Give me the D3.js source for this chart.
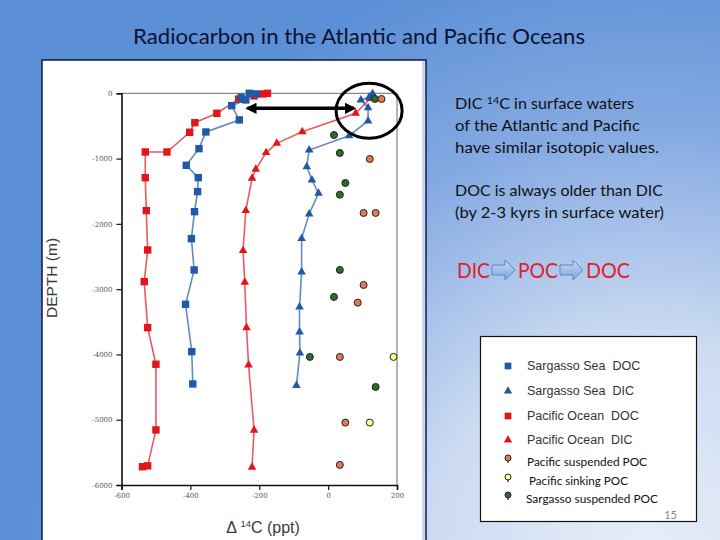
<!DOCTYPE html>
<html lang="en">
<head>
    <meta charset="UTF-8">
    <title>Radiocarbon in the Atlantic and Pacific Oceans</title>
    <script src="https://d3js.org/d3.v7.min.js"></script>
</head>
<body>
    <div id="container"></div>
</body>

<style>
body {
    margin: 0 0;
    overflow: hidden;
}
svg text {
    user-select: none;
}
</style>

<script>
    // values: [delta14C (ppt), depth (m)]
    const sargassoDOC = [
        [-229, 0], [-210, -10], [-253, -61], [-239, -102], [-280, -189], [-258, -408],
        [-355, -592], [-375, -848], [-412, -1103], [-377, -1292], [-379, -1506],
        [-388, -1813], [-397, -2226], [-389, -2706], [-414, -3232], [-396, -3957], [-393, -4452]
    ]
    const sargassoDIC = [
        [129, -5], [119, -61], [95, -102], [116, -220], [116, -424], [61, -649],
        [-55, -868], [-62, -1124], [-47, -1328], [-28, -1531], [-55, -1848],
        [-77, -2226], [-77, -2737], [-83, -3273], [-83, -3656], [-82, -3977], [-92, -4477]
    ]
    const pacificDOC = [
        [-176, 0], [-190, -10], [-215, -40], [-260, -90], [-323, -306], [-387, -450],
        [-402, -597], [-468, -899], [-531, -899], [-531, -1292], [-528, -1797],
        [-524, -2400], [-534, -2885], [-524, -3590], [-500, -4150], [-500, -5156],
        [-524, -5707], [-539, -5720]
    ]
    const pacificDIC = [
        [130, -20], [122, -80], [80, -306], [-75, -590], [-149, -766], [-180, -909],
        [-210, -1164], [-221, -1302], [-239, -1797], [-247, -2410], [-242, -2895],
        [-237, -3590], [-231, -4161], [-215, -5161], [-221, -5727]
    ]
    const pacificSuspendedPOC = [
        [155, -87], [121, -1006], [103, -1833], [138, -1833], [103, -2936],
        [86, -3207], [34, -4038], [50, -5044], [34, -5692]
    ]
    const pacificSinkingPOC = [[190, -4038], [121, -5044]]
    const sargassoSuspendedPOC = [
        [136, -87], [17, -639], [34, -914], [50, -1374], [34, -1553],
        [34, -2706], [17, -3119], [-53, -4038], [138, -4498]
    ]

    const xTicks = [-600, -400, -200, 0, 200]
    const yTicks = [0, -1000, -2000, -3000, -4000, -5000, -6000]

    const legendItems = [
        {label: 'Sargasso Sea  DOC', shape: 'square', color: '#1f5aa6', font: 'chart'},
        {label: 'Sargasso Sea  DIC', shape: 'triangle', color: '#1f5aa6', font: 'chart'},
        {label: 'Pacific Ocean  DOC', shape: 'square', color: '#e0161b', font: 'chart'},
        {label: 'Pacific Ocean  DIC', shape: 'triangle', color: '#e0161b', font: 'chart'},
        {label: 'Pacific suspended POC', shape: 'pin', color: '#e07a50', font: 'slide', w: 120},
        {label: 'Pacific sinking POC', shape: 'pin', color: '#ffff80', font: 'slide', w: 99, dx: 2},
        {label: 'Sargasso suspended POC', shape: 'pin', color: '#2e6b2e', font: 'slide', w: 132, dx: -1}
    ]

    // annotation: circle round the surface DIC, arrow between DOC and DIC
    const ringCenter = [119, -266]
    const arrowEnds = [[-234, -230], [75, -230]]

    const W = 720, H = 540
    const slideFont = 'Lato, "Open Sans", sans-serif'
    const chartFont = '"Liberation Sans", Arial, sans-serif'
    const blue = '#1f5aa6', red = '#e0161b'

    const svg = d3.select('#container')
        .append('svg')
        .attr('width', W)
        .attr('height', H)

    const defs = svg.append('defs')
    const grad = defs.append('radialGradient')
        .attr('id', 'bg')
        .attr('gradientUnits', 'userSpaceOnUse')
        .attr('cx', 650).attr('cy', 560).attr('r', 620)
    grad.append('stop').attr('offset', 0).attr('stop-color', '#e8eef9')
    grad.append('stop').attr('offset', 0.35).attr('stop-color', '#cddcf2')
    grad.append('stop').attr('offset', 0.7).attr('stop-color', '#84a9e2')
    grad.append('stop').attr('offset', 1).attr('stop-color', '#5b8fd6')

    const arrowGrad = defs.append('linearGradient')
        .attr('id', 'blockArrow')
        .attr('x1', 0).attr('y1', 0).attr('x2', 0).attr('y2', 1)
    arrowGrad.append('stop').attr('offset', 0).attr('stop-color', '#c7daf5')
    arrowGrad.append('stop').attr('offset', 1).attr('stop-color', '#7ea6df')

    svg.append('rect')
        .attr('width', W).attr('height', H)
        .attr('fill', 'url(#bg)')

    // title
    svg.append('text')
        .attr('x', 359).attr('y', 44)
        .attr('text-anchor', 'middle')
        .attr('font-family', slideFont)
        .attr('font-size', 22)
        .attr('fill', '#0b1333')
        .attr('textLength', 452)
        .attr('lengthAdjust', 'spacingAndGlyphs')
        .text('Radiocarbon in the Atlantic and Pacific Oceans')

    // white image panel
    svg.append('rect')
        .attr('x', 42).attr('y', 60)
        .attr('width', 384).attr('height', 490)
        .attr('fill', '#fff')
        .attr('stroke', '#0a1a40')
        .attr('stroke-width', 1.5)
    svg.append('rect')
        .attr('x', 422).attr('y', 61)
        .attr('width', 3).attr('height', 490)
        .attr('fill', '#c9d8f0')

    const x = d3.scaleLinear().domain([-600, 200]).range([121.5, 397])
    const y = d3.scaleLinear().domain([0, -6000]).range([93.3, 485])

    const plot = svg.append('g')

    // frame: grey top and right, black axes
    plot.append('line')
        .attr('x1', x(-600)).attr('x2', x(200))
        .attr('y1', y(0)).attr('y2', y(0))
        .attr('stroke', '#8a8a8a').attr('stroke-width', 1.2)
    plot.append('line')
        .attr('x1', x(200)).attr('x2', x(200))
        .attr('y1', y(0)).attr('y2', y(-6000))
        .attr('stroke', '#6a6a6a').attr('stroke-width', 1)

    const plain = function(d) { return String(d) }
    const xAxis = plot.append('g')
        .attr('transform', 'translate(0,' + y(-6000) + ')')
        .call(d3.axisBottom(x).tickValues(xTicks).tickFormat(plain).tickSize(5).tickPadding(3))
    const yAxis = plot.append('g')
        .attr('transform', 'translate(' + x(-600) + ',0)')
        .call(d3.axisLeft(y).tickValues(yTicks).tickFormat(plain).tickSize(5).tickPadding(4))

    ;[xAxis, yAxis].forEach(function(a) {
        a.select('.domain').attr('stroke', '#111').attr('stroke-width', 1.6)
        a.selectAll('.tick line').attr('stroke', '#111').attr('stroke-width', 1.2)
        a.selectAll('.tick text')
            .attr('font-family', '"DejaVu Serif", serif')
            .attr('font-size', 7)
            .attr('fill', '#555')
    })

    // axis titles
    svg.append('text')
        .attr('transform', 'translate(57,278) rotate(-90)')
        .attr('text-anchor', 'middle')
        .attr('font-family', chartFont)
        .attr('font-size', 15.5)
        .attr('fill', '#3a3a3a')
        .text('DEPTH (m)')

    const xt = svg.append('text')
        .attr('x', 263).attr('y', 533)
        .attr('text-anchor', 'middle')
        .attr('font-family', chartFont)
        .attr('font-size', 16)
        .attr('fill', '#3a3a3a')
    xt.append('tspan').text('\u0394 ')
    xt.append('tspan').attr('font-size', 9.5).attr('dy', -6).text('14')
    xt.append('tspan').attr('dy', 6).text('C (ppt)')

    const line = d3.line()
        .x(function(d) { return x(d[0]) })
        .y(function(d) { return y(d[1]) })

    function profile(data, color, shape) {
        plot.append('path')
            .datum(data)
            .attr('d', line)
            .attr('fill', 'none')
            .attr('stroke', color)
            .attr('stroke-opacity', 0.7)
            .attr('stroke-width', 1.6)

        const sym = d3.symbol()
            .type(shape === 'square' ? d3.symbolSquare : d3.symbolTriangle)
            .size(shape === 'square' ? 55 : 32)

        plot.append('g')
            .selectAll('path')
            .data(data)
            .join('path')
            .attr('d', sym)
            .attr('transform', function(d) {
                return 'translate(' + x(d[0]) + ',' + y(d[1]) + ')'
            })
            .attr('fill', color)
    }

    profile(pacificDOC, red, 'square')
    profile(sargassoDOC, blue, 'square')
    profile(pacificDIC, red, 'triangle')
    profile(sargassoDIC, blue, 'triangle')

    function dots(data, color) {
        plot.append('g')
            .selectAll('circle')
            .data(data)
            .join('circle')
            .attr('cx', function(d) { return x(d[0]) })
            .attr('cy', function(d) { return y(d[1]) })
            .attr('r', 3.5)
            .attr('fill', color)
            .attr('stroke', '#222')
            .attr('stroke-width', 1)
    }

    dots(sargassoSuspendedPOC, '#2e6b2e')
    dots(pacificSuspendedPOC, '#e07a50')
    dots(pacificSinkingPOC, '#ffff80')

    // annotations
    defs.append('marker')
        .attr('id', 'head')
        .attr('viewBox', '0 0 10 10')
        .attr('refX', 8).attr('refY', 5)
        .attr('markerWidth', 3.2).attr('markerHeight', 3.2)
        .attr('orient', 'auto-start-reverse')
        .append('path')
        .attr('d', 'M0,0 L10,5 L0,10 z')
        .attr('fill', '#000')

    svg.append('line')
        .attr('x1', x(arrowEnds[0][0])).attr('y1', y(arrowEnds[0][1]))
        .attr('x2', x(arrowEnds[1][0])).attr('y2', y(arrowEnds[1][1]))
        .attr('stroke', '#000')
        .attr('stroke-width', 3.5)
        .attr('marker-start', 'url(#head)')
        .attr('marker-end', 'url(#head)')

    svg.append('ellipse')
        .attr('cx', x(ringCenter[0])).attr('cy', y(ringCenter[1]))
        .attr('rx', 33).attr('ry', 27.5)
        .attr('fill', 'none')
        .attr('stroke', '#000')
        .attr('stroke-width', 3)

    // right hand notes
    const notes = [
        {y: 109, w: 179, parts: [['DIC ', 0], ['14', 1], ['C in surface waters', 0]]},
        {y: 131, w: 185, parts: [['of the Atlantic and Pacific', 0]]},
        {y: 153, w: 204, parts: [['have similar isotopic values.', 0]]},
        {y: 196, w: 208, parts: [['DOC is always older than DIC', 0]]},
        {y: 218, w: 209, parts: [['(by 2-3 kyrs in surface water)', 0]]}
    ]
    notes.forEach(function(n) {
        const t = svg.append('text')
            .attr('x', 455).attr('y', n.y)
            .attr('font-family', slideFont)
            .attr('font-size', 15)
            .attr('fill', '#111')
            .attr('textLength', n.w)
            .attr('lengthAdjust', 'spacingAndGlyphs')
        n.parts.forEach(function(p) {
            const s = t.append('tspan').text(p[0])
            if (p[1]) {
                s.attr('font-size', 10).attr('dy', -5)
            } else if (t.selectAll('tspan').size() > 1) {
                s.attr('dy', 5)
            }
        })
    })

    // DIC -> POC -> DOC
    const flow = [['DIC', 457, 33], ['POC', 518, 40], ['DOC', 586, 44]]
    flow.forEach(function(f) {
        svg.append('text')
            .attr('x', f[1]).attr('y', 278)
            .attr('font-family', slideFont)
            .attr('font-size', 22)
            .attr('fill', '#e0202a')
            .attr('textLength', f[2])
            .attr('lengthAdjust', 'spacingAndGlyphs')
            .text(f[0])
    })
    ;[492, 560].forEach(function(ax) {
        svg.append('path')
            .attr('d', 'M' + ax + ',265 h13 v-5 l10,10 l-10,10 v-5 h-13 z')
            .attr('fill', 'url(#blockArrow)')
            .attr('stroke', '#5b86c8')
            .attr('stroke-width', 1)
    })

    // legend
    const lg = svg.append('g')
    lg.append('rect')
        .attr('x', 480.5).attr('y', 336.5)
        .attr('width', 216).attr('height', 185)
        .attr('fill', '#fff')
        .attr('stroke', '#111')
        .attr('stroke-width', 1.2)

    const rowY = [366, 391, 416, 440, 462, 481, 499]
    legendItems.forEach(function(item, i) {
        const cy = rowY[i]
        if (item.shape === 'pin') {
            lg.append('line')
                .attr('x1', 508).attr('x2', 508)
                .attr('y1', cy - 5).attr('y2', cy + 1)
                .attr('stroke', '#222').attr('stroke-width', 1.2)
            lg.append('circle')
                .attr('cx', 508).attr('cy', cy - 4)
                .attr('r', 3)
                .attr('fill', item.color)
                .attr('stroke', '#222').attr('stroke-width', 1)
            lg.append('text')
                .attr('x', 527 + (item.dx || 0))
                .attr('y', cy + 4)
                .attr('font-family', slideFont)
                .attr('font-size', 12)
                .attr('fill', '#111')
                .attr('textLength', item.w)
                .attr('lengthAdjust', 'spacingAndGlyphs')
                .text(item.label)
        } else {
            lg.append('path')
                .attr('d', d3.symbol()
                    .type(item.shape === 'square' ? d3.symbolSquare : d3.symbolTriangle)
                    .size(item.shape === 'square' ? 45 : 30))
                .attr('transform', 'translate(508,' + cy + ')')
                .attr('fill', item.color)
            lg.append('text')
                .attr('x', 527)
                .attr('y', cy + 4)
                .attr('font-family', chartFont)
                .attr('font-size', 12.5)
                .attr('fill', '#333')
                .style('white-space', 'pre')
                .text(item.label)
        }
    })

    lg.append('text')
        .attr('x', 677).attr('y', 519)
        .attr('text-anchor', 'end')
        .attr('font-family', slideFont)
        .attr('font-size', 11)
        .attr('fill', '#888')
        .text('15')
</script>
</html>
